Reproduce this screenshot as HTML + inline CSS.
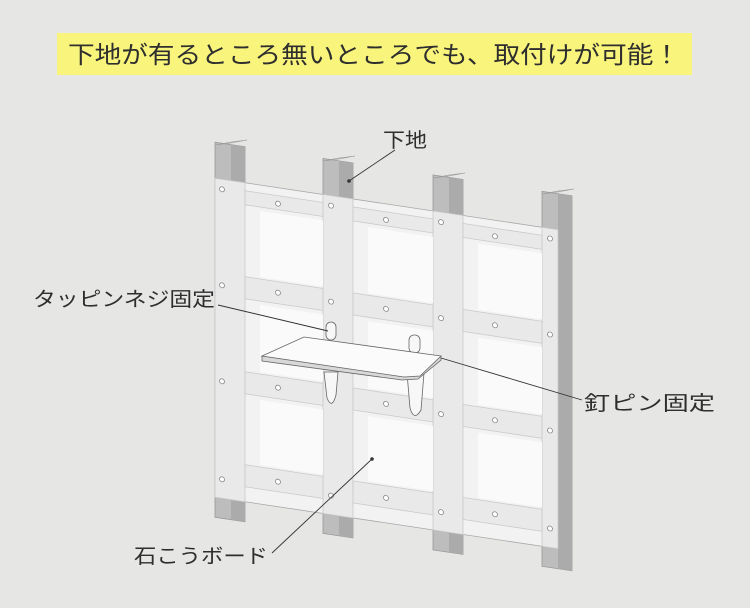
<!DOCTYPE html>
<html><head><meta charset="utf-8"><style>
html,body{margin:0;padding:0;background:#e6e6e5;}
svg{display:block;}
text{font-family:"Liberation Sans","Noto Sans CJK JP",sans-serif;fill:#2e2e2e;}
</style></head><body>
<svg width="750" height="608" viewBox="0 0 750 608" xmlns="http://www.w3.org/2000/svg">
<rect width="750" height="608" fill="#e6e6e5"/>
<rect x="57" y="33" width="635" height="42" fill="#f8f47c"/>
<text x="68" y="63" font-size="24" textLength="612" lengthAdjust="spacingAndGlyphs">下地が有るところ無いところでも、取付けが可能！</text>

<g transform="matrix(1,0.15,0,1,0,0)">
  <g fill="#bdbdbd" stroke="#999" stroke-width="0.8">
    <rect x="215" y="110" width="30" height="375"/>
    <rect x="323" y="110" width="30" height="375"/>
    <rect x="433" y="110" width="30" height="375"/>
    <rect x="542" y="110" width="30" height="375"/>
  </g>
  <g fill="#ababab">
    <rect x="231" y="110" width="14" height="375"/>
    <rect x="339" y="110" width="14" height="375"/>
    <rect x="449" y="110" width="14" height="375"/>
    <rect x="558" y="110" width="14" height="375"/>
  </g>
  <rect x="245" y="146" width="297" height="8" fill="#b5b5b5"/>
  <rect x="215" y="146" width="343" height="319" fill="#f2f2f2" stroke="#a8a8a8" stroke-width="0.8"/>
  <g fill="#e9e9e9" stroke="#c9c9c9" stroke-width="0.8">
    <rect x="215" y="146" width="30" height="319"/>
    <rect x="323" y="146" width="30" height="319"/>
    <rect x="433" y="146" width="30" height="319"/>
    <rect x="542" y="146" width="16" height="319"/>
    <rect x="245" y="154" width="78" height="14"/>
    <rect x="353" y="154" width="80" height="14"/>
    <rect x="463" y="154" width="79" height="14"/>
    <rect x="245" y="240" width="78" height="22"/>
    <rect x="353" y="240" width="80" height="22"/>
    <rect x="463" y="240" width="79" height="22"/>
    <rect x="245" y="335" width="78" height="22"/>
    <rect x="353" y="335" width="80" height="22"/>
    <rect x="463" y="335" width="79" height="22"/>
    <rect x="245" y="428" width="78" height="22"/>
    <rect x="353" y="428" width="80" height="22"/>
    <rect x="463" y="428" width="79" height="22"/>
  </g>
  <g fill="#fafafa">
    <rect x="260" y="172" width="63" height="66"/>
    <rect x="368" y="172" width="65" height="66"/>
    <rect x="478" y="172" width="64" height="66"/>
    <rect x="260" y="266" width="63" height="67"/>
    <rect x="368" y="266" width="65" height="67"/>
    <rect x="478" y="266" width="64" height="67"/>
    <rect x="260" y="361" width="63" height="65"/>
    <rect x="368" y="361" width="65" height="65"/>
    <rect x="478" y="361" width="64" height="65"/>
  </g>
  <g fill="#fff" stroke="#888" stroke-width="0.8">
    <circle cx="222" cy="156" r="2.5"/><circle cx="222" cy="252" r="2.5"/><circle cx="222" cy="348" r="2.5"/><circle cx="222" cy="446" r="2.5"/>
    <circle cx="331" cy="156" r="2.5"/><circle cx="331" cy="252" r="2.5"/><circle cx="331" cy="348" r="2.5"/><circle cx="331" cy="446" r="2.5"/>
    <circle cx="441" cy="156" r="2.5"/><circle cx="441" cy="252" r="2.5"/><circle cx="441" cy="348" r="2.5"/><circle cx="441" cy="446" r="2.5"/>
    <circle cx="550" cy="156" r="2.5"/><circle cx="550" cy="252" r="2.5"/><circle cx="550" cy="348" r="2.5"/><circle cx="550" cy="446" r="2.5"/>
    <circle cx="278" cy="162" r="2.5"/><circle cx="386" cy="162" r="2.5"/><circle cx="495" cy="162" r="2.5"/>
    <circle cx="278" cy="251" r="2.5"/><circle cx="386" cy="251" r="2.5"/><circle cx="495" cy="251" r="2.5"/>
    <circle cx="278" cy="346" r="2.5"/><circle cx="386" cy="346" r="2.5"/><circle cx="495" cy="346" r="2.5"/>
    <circle cx="278" cy="440" r="2.5"/><circle cx="386" cy="440" r="2.5"/><circle cx="495" cy="440" r="2.5"/>
  </g>
</g>
<g fill="#c9c9c9" stroke="#999" stroke-width="0.6">
  <polygon points="215,145 231,143 247,140 231,142"/>
  <polygon points="323,161 339,158 355,156 339,159"/>
  <polygon points="433,178 449,175 465,173 449,176"/>
  <polygon points="542,194 558,191 574,189 558,192"/>
</g>
<g fill="#f7f7f7" stroke="#666" stroke-width="0.8">
  <rect x="326" y="322" width="10" height="18" rx="5"/>
  <rect x="409" y="335" width="11" height="18" rx="5"/>
  <path d="M324,372 L338,372 L336,395 Q332,410 327,398 Z"/>
  <path d="M407,373 L424,373 L421,410 Q414,422 410,408 Z"/>
</g>
<polygon points="262,356 262,361 402,380 418,379 441,360 441,356" fill="#d8d8d8" stroke="#666" stroke-width="0.8"/>
<polygon points="262,356 304,337 441,356 420,376 404,377" fill="#fbfbfb" stroke="#666" stroke-width="0.8"/>
<g stroke="#333" stroke-width="0.9" fill="none">
  <line x1="395" y1="150" x2="349" y2="181"/>
  <line x1="218" y1="305" x2="328" y2="331"/>
  <line x1="582" y1="400" x2="441" y2="358"/>
  <line x1="272" y1="553" x2="372" y2="459"/>
</g>
<circle cx="349" cy="181" r="1.8" fill="#333"/>
<circle cx="372" cy="459" r="1.8" fill="#333"/>
<text x="383" y="147" font-size="20" textLength="44" lengthAdjust="spacingAndGlyphs">下地</text>
<text x="33" y="306" font-size="20" textLength="182" lengthAdjust="spacingAndGlyphs">タッピンネジ固定</text>
<text x="584" y="410" font-size="20" textLength="131" lengthAdjust="spacingAndGlyphs">釘ピン固定</text>
<text x="134" y="563" font-size="20" textLength="134" lengthAdjust="spacingAndGlyphs">石こうボード</text>
</svg>
</body></html>
